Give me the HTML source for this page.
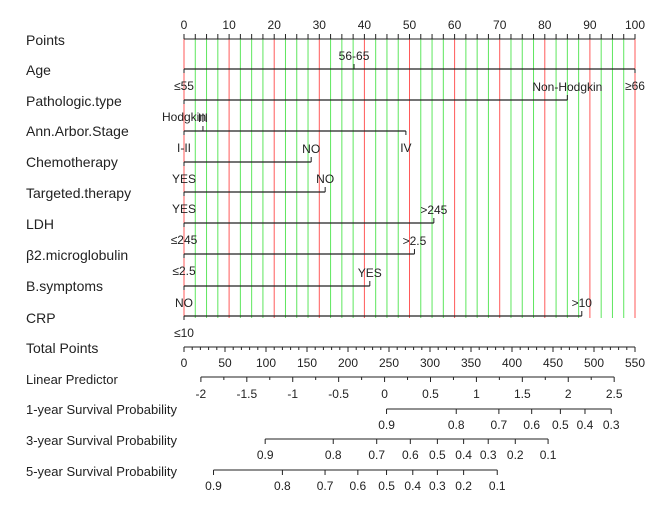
<!DOCTYPE html>
<html><head><meta charset="utf-8"><style>
body{margin:0;background:#fff}
svg{display:block;font-family:"Liberation Sans",Arial,sans-serif}
</style></head><body>
<svg id="c" width="669" height="510" xmlns="http://www.w3.org/2000/svg"></svg>
<script>
// ---- data ----
const rowNames = ["Points","Age","Pathologic.type","Ann.Arbor.Stage","Chemotherapy","Targeted.therapy","LDH","β2.microglobulin","B.symptoms","CRP","Total Points","Linear Predictor","1-year Survival Probability","3-year Survival Probability","5-year Survival Probability"];
const rowY = [40,70,101,131,162,193,224,255,286,318,348,379,409,440,471];
const pointTicks = [0,10,20,30,40,50,60,70,80,90,100];
// variable levels: [label, points, labelAbove]
const ageLevels = [["≤55",0,false],["56-65",37.7,true],["≥66",100,false]];
const pathLevels = [["Hodgkin",0,false],["Non-Hodgkin",85,true]];
const stageLevels = [["I-II",0,false],["III",4.2,true],["IV",49.2,false]];
const chemoLevels = [["YES",0,false],["NO",28.2,true]];
const targetLevels = [["YES",0,false],["NO",31.3,true]];
const ldhLevels = [["≤245",0,false],[">245",55.4,true]];
const b2Levels = [["≤2.5",0,false],[">2.5",51.1,true]];
const bsympLevels = [["NO",0,false],["YES",41.2,true]];
const crpLevels = [["≤10",0,false],[">10",88.2,true]];
const totalTicks = [0,50,100,150,200,250,300,350,400,450,500,550];
const lpTicks = ["-2","-1.5","-1","-0.5","0","0.5","1","1.5","2","2.5"];
const lpZeroPts = 244.6, lpSlope = 112; // total points per unit LP
const surv1Labels = ["0.9","0.8","0.7","0.6","0.5","0.4","0.3"];
const surv1Points = [247,332,384,424,459,489,521];
const surv3Labels = ["0.9","0.8","0.7","0.6","0.5","0.4","0.3","0.2","0.1"];
const surv3Points = [99,182,235,276,309,341,371,404,444];
const surv5Labels = ["0.9","0.8","0.7","0.6","0.5","0.4","0.3","0.2","0.1"];
const surv5Points = [36,120,172,212,247,279,309,341,382];

// ---- scales ----
const X0 = 184, X1 = 635;
const xP = p => X0 + (X1 - X0) * p / 100;
const xT = t => X0 + (X1 - X0) * t / 550;
const svg = document.getElementById('c');
const NS = "http://www.w3.org/2000/svg";
function mk(tag, attrs, parent){const e=document.createElementNS(NS,tag);for(const k in attrs)e.setAttribute(k,attrs[k]);(parent||svg).appendChild(e);return e;}
function line(x1,y1,x2,y2,c,w,p){return mk('line',{x1,y1,x2,y2,stroke:c,'stroke-width':w||1},p);}
function txt(x,y,s,size,anchor,p){const t=mk('text',{x,y,'font-size':size||12,'text-anchor':anchor||'middle',fill:'#222'},p);t.textContent=s;return t;}

// grid
const grid = mk('g',{});


for(let i=0;i<=40;i++){const p=i*2.5;const red=(i%4===0);line(xP(p),39,xP(p),318,red?'#ff5a5a':'#5ee65e',1,grid);}

// row labels
rowNames.forEach((n,i)=>{const t=txt(26,rowY[i]+5,n,i>=11?13:14,'start');

});

// points axis
const pa = mk('g',{});


line(X0,39,X1,39,'#222',1,pa);
for(let i=0;i<=40;i++){line(xP(i*2.5),39,xP(i*2.5),34,'#222',1,pa);}
pointTicks.forEach(t=>txt(xP(t),29,String(t),12,'middle',pa));

// variable rows
const vars = [["age",ageLevels,69],["pathologic-type",pathLevels,100],["ann-arbor-stage",stageLevels,131],["chemotherapy",chemoLevels,162],["targeted-therapy",targetLevels,192],["ldh",ldhLevels,223],["b2-microglobulin",b2Levels,254],["b-symptoms",bsympLevels,286],["crp",crpLevels,316]];
vars.forEach(([name,lv,y])=>{
  const g=mk('g',{});
  
  
  const pts=lv.map(l=>l[1]);
  line(xP(Math.min(...pts)),y,xP(Math.max(...pts)),y,'#222',1.2,g);
  lv.forEach(([lab,p,up])=>{
    line(xP(p),y,xP(p),up?y-5:y+4,'#222',1,g);
    txt(xP(p),up?y-9:y+21,lab,12,'middle',g);
  });
});

// total points
const tp = mk('g',{});


line(X0,347,X1,347,'#222',1,tp);
for(let t=0;t<=550;t+=10){line(xT(t),347,xT(t),t%50===0?352:350,'#222',1,tp);}
totalTicks.forEach(t=>txt(xT(t),367,String(t),12,'middle',tp));

// linear predictor
const lp = mk('g',{});


const xL = v => xT(lpZeroPts + lpSlope*v);
line(xL(+lpTicks[0]),377,xL(+lpTicks[lpTicks.length-1]),377,'#222',1,lp);
for(let v=+lpTicks[0];v<=+lpTicks[lpTicks.length-1]+1e-9;v+=0.25){line(xL(v),377,xL(v),Math.abs(v*2-Math.round(v*2))<1e-6?382:380,'#222',1,lp);}
lpTicks.forEach(s=>txt(xL(+s),398,s,12,'middle',lp));

// survival axes
function surv(name,labels,pts,y){
  const g=mk('g',{});
  
  
  line(xT(Math.min(...pts)),y,xT(Math.max(...pts)),y,'#222',1,g);
  pts.forEach((p,i)=>{line(xT(p),y,xT(p),y+5,'#222',1,g);txt(xT(p),y+20,labels[i],12,'middle',g);});
}
surv('1-year-survival-axis',surv1Labels,surv1Points,409);
surv('3-year-survival-axis',surv3Labels,surv3Points,439);
surv('5-year-survival-axis',surv5Labels,surv5Points,470);
</script>
</body></html>
